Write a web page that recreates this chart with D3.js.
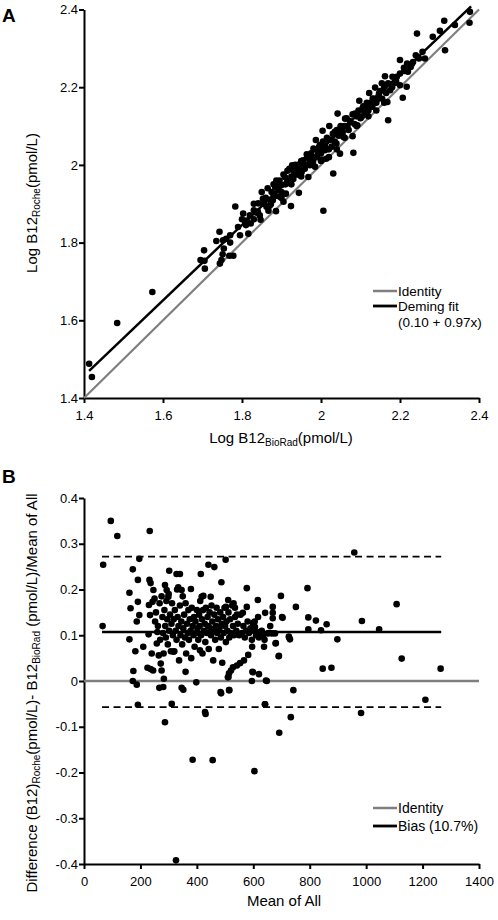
<!DOCTYPE html>
<html><head><meta charset="utf-8">
<script src="https://cdn.jsdelivr.net/npm/d3@7"></script>
<style>
body{margin:0;background:#fff;}
svg{display:block;font-family:"Liberation Sans",Arial,sans-serif;}
</style></head><body>
<svg id="c" width="498" height="920"></svg>
<script>
// ---- Panel A data: [Log B12 BioRad, Log B12 Roche]
const pointsA = [
[1.413,1.488],[1.42,1.454],[1.484,1.593],[1.573,1.673],[1.695,1.755],[1.704,1.78],[1.706,1.733],[1.705,1.753],
[1.735,1.804],[1.743,1.828],[1.744,1.746],[1.748,1.755],[1.754,1.785],[1.751,1.77],[1.752,1.806],[1.768,1.766],
[1.778,1.766],[1.77,1.819],[1.783,1.893],[1.795,1.819],[1.803,1.875],[1.808,1.853],[1.812,1.857],[1.816,1.823],
[1.822,1.849],[1.83,1.883],[1.837,1.877],[1.841,1.901],[1.847,1.859],[1.853,1.913],[1.862,1.892],[1.867,1.882],
[1.873,1.899],[1.878,1.909],[1.879,1.926],[1.884,1.943],[1.886,1.881],[1.887,1.96],[1.892,1.935],[1.896,1.918],
[1.9,1.948],[1.905,1.905],[1.909,1.968],[1.911,1.926],[1.915,1.985],[1.922,1.953],[1.924,1.894],[1.927,1.999],
[1.93,1.964],[1.934,1.977],[1.941,1.99],[1.944,1.928],[1.947,2.003],[1.951,1.982],[1.955,2.012],[1.959,1.99],
[1.964,2.027],[1.968,1.969],[1.972,1.999],[1.976,2.02],[1.981,2.042],[1.985,1.995],[1.987,2.064],[1.993,2.031],
[1.997,2.051],[2.002,2.014],[2.006,1.882],[2.004,2.088],[2.01,2.038],[2.013,2.016],[2.019,2.064],[2.021,2.1],
[2.027,2.047],[2.031,1.978],[2.035,2.085],[2.039,2.055],[2.042,2.132],[2.048,2.029],[2.05,2.098],[2.057,2.072],
[2.061,2.119],[2.067,2.098],[2.073,2.113],[2.08,2.074],[2.082,2.031],[2.086,2.132],[2.092,2.102],[2.097,2.165],
[2.103,2.124],[2.107,2.151],[2.111,2.138],[2.116,2.16],[2.122,2.185],[2.127,2.151],[2.131,2.171],[2.137,2.199],
[2.141,2.167],[2.147,2.184],[2.154,2.21],[2.162,2.228],[2.168,2.162],[2.17,2.115],[2.175,2.192],[2.181,2.227],
[2.187,2.211],[2.192,2.227],[2.2,2.205],[2.207,2.173],[2.211,2.242],[2.217,2.201],[2.2,2.27],[2.218,2.261],
[2.227,2.252],[2.233,2.265],[2.24,2.282],[2.243,2.338],[2.248,2.274],[2.257,2.291],[2.263,2.274],[2.283,2.33],
[2.301,2.345],[2.312,2.371],[2.314,2.295],[2.339,2.36],[2.376,2.366],[2.377,2.394],
[1.82,1.87],[1.83,1.9],[1.84,1.88],[1.85,1.93],[1.855,1.9],[1.86,1.915],[1.865,1.94],[1.87,1.91],[1.875,1.93],
[1.88,1.95],[1.885,1.92],[1.89,1.945],[1.895,1.96],[1.9,1.93],[1.905,1.975],[1.91,1.95],[1.915,1.96],[1.92,1.99],
[1.925,1.97],[1.93,1.985],[1.935,2.0],[1.94,1.975],[1.945,1.99],[1.95,2.01],[1.955,1.995],[1.96,2.0],[1.965,2.02],
[1.97,2.015],[1.975,2.03],[1.98,2.01],[1.985,2.04],[1.99,2.02],[1.995,2.045],[2.0,2.03],[2.005,2.06],[2.01,2.05],
[2.015,2.07],[2.02,2.04],[2.025,2.065],[2.03,2.08],[2.035,2.06],[2.04,2.09],[2.045,2.075],[2.05,2.1],[2.055,2.085],
[2.06,2.1],[2.065,2.12],[2.07,2.09],[2.075,2.11],[2.08,2.13],[2.085,2.105],[2.09,2.125],[2.095,2.14],[2.1,2.12],
[2.105,2.145],[2.11,2.13],[2.115,2.15],[2.12,2.14],[2.125,2.16],[2.13,2.15],[2.135,2.17],[2.14,2.16],[2.145,2.175],
[2.15,2.19],[2.155,2.17],[2.16,2.2],[2.165,2.185],[2.17,2.21],[2.18,2.2],[2.19,2.215],[2.2,2.235],[2.21,2.25],
[2.22,2.24],[2.23,2.26],[1.76,1.81],[1.77,1.8],[1.79,1.84],[1.8,1.86],[1.81,1.845],[1.83,1.86],[1.845,1.87],
[1.87,1.895],[1.9,1.915],[1.925,1.95],[1.95,1.97],[1.98,2.0],[2.0,2.01],[2.02,2.02],[2.04,2.04],[2.06,2.07],
[2.09,2.1],[2.12,2.125],[2.14,2.14],[2.16,2.16]
];
const identityA = [[1.4,1.4],[2.4,2.4]];
const demingA = [[1.413,1.47],[2.38,2.408]];
const ticksA = [1.4,1.6,1.8,2,2.2,2.4];
const legendA = ["Identity","Deming fit","(0.10 + 0.97x)"];

// ---- Panel B data: [Mean of All, relative difference]
const pointsB = [
[66,0.12],[68,0.254],[95,0.35],[118,0.317],[233,0.328],[161,0.193],[165,0.159],[161,0.091],[173,0.244],[175,0.022],
[173,0.0],[187,-0.008],[182,0.065],[191,-0.052],[191,0.221],[196,0.267],[191,0.173],[196,0.144],[187,0.13],[210,0.075],
[229,0.102],[232,0.221],[236,0.214],[230,0.166],[234,0.144],[243,0.173],[240,0.06],[225,0.029],[236,0.026],[245,0.023],
[246,0.199],[252,0.13],[258,0.082],[260,0.107],[265,0.056],[267,-0.015],[272,0.038],[275,0.023],[281,-0.013],[283,0.005],
[287,-0.09],[287,0.21],[293,0.199],[299,0.184],[302,0.241],[311,-0.05],[317,0.064],[328,0.234],[340,0.234],[334,0.205],
[346,0.199],[346,-0.015],[352,-0.019],[360,0.02],[379,0.201],[385,-0.172],[398,-0.003],[411,0.067],[414,0.234],[417,0.184],
[423,0.186],[431,-0.072],[441,0.254],[449,0.184],[456,-0.173],[462,0.249],[484,-0.024],[487,0.216],[502,0.265],[515,-0.02],
[512,0.009],[577,0.203],[616,0.177],[597,0.02],[604,-0.197],[645,0.001],[642,0.149],[642,-0.051],[669,0.162],[669,0.149],
[669,0.137],[679,0.082],[690,0.054],[698,0.186],[704,0.138],[692,-0.113],[726,0.097],[730,0.091],[733,-0.079],[742,-0.02],
[751,0.162],[792,0.203],[795,0.139],[795,0.113],[822,0.132],[840,0.111],[846,0.027],[860,0.124],[877,0.029],[898,0.091],
[958,0.281],[982,-0.07],[985,0.131],[1046,0.113],[1108,0.168],[1126,0.049],[1210,-0.041],[1264,0.027],[326,-0.392],
[599,0.127],[606,0.118],[613,0.107],[624,0.104],[635,0.1],[652,0.104],[666,0.104],[677,0.104],[727,0.095],[680,0.083],
[691,0.055],[638,0.075],[596,0.075],[582,0.057],[567,0.045],[553,0.039],[542,0.034],[528,0.03],[521,0.023],[514,0.017],
[510,0.008],[599,0.019],[620,0.015],[595,0.0],[648,0.0],[514,-0.02],[486,-0.027],[641,-0.051],[429,-0.068],
[530,0.17],[535,0.16],[542,0.145],[511,0.177],[503,0.162],[563,0.149],[577,0.162],[617,0.14],[702,0.14],
[250,0.18],[255,0.15],[262,0.12],[268,0.17],[270,0.09],[275,0.185],[278,0.14],[280,0.105],[282,0.06],[285,0.155],
[288,0.12],[290,0.095],[292,0.175],[295,0.135],[297,0.08],[300,0.19],[302,0.11],[305,0.145],[308,0.065],[310,0.125],
[312,0.17],[315,0.1],[318,0.135],[320,0.065],[322,0.155],[325,0.11],[328,0.09],[330,0.2],[332,0.14],[335,0.12],
[337,0.045],[340,0.165],[342,0.1],[345,0.13],[348,0.08],[350,0.185],[352,0.115],[355,0.145],[358,0.095],[360,0.17],
[362,0.06],[365,0.125],[368,0.105],[370,0.155],[372,0.09],[375,0.135],[378,0.11],[380,0.05],[382,0.16],[385,0.12],
[388,0.1],[390,0.14],[392,0.075],[395,0.13],[398,0.105],[400,0.155],[402,0.115],[405,0.09],[408,0.145],[410,0.12],
[412,0.175],[415,0.1],[418,0.135],[420,0.06],[422,0.155],[425,0.11],[428,0.125],[430,0.085],[432,0.16],[435,0.105],
[438,0.14],[440,0.12],[442,0.07],[445,0.15],[448,0.115],[450,0.1],[452,0.165],[455,0.13],[458,0.045],[460,0.11],
[462,0.145],[465,0.09],[468,0.12],[470,0.16],[472,0.105],[475,0.135],[478,0.07],[480,0.115],[483,0.15],[485,0.095],
[488,0.125],[490,0.04],[493,0.14],[495,0.105],[498,0.16],[500,0.12],[503,0.085],[505,0.13],[508,0.11],[512,0.15],
[515,0.095],[518,0.135],[520,0.105],[525,0.165],[528,0.12],[532,0.1],[535,0.14],[540,0.11],[545,0.125],[550,0.1],
[555,0.145],[560,0.105],[565,0.12],[570,0.095],[575,0.11],[580,0.13],[585,0.105],[590,0.115],[595,0.09],[600,0.11],
[605,0.13],[610,0.1],[620,0.095],[630,0.11],[640,0.09],[655,0.105],[660,0.12]
];
const biasB = 0.107, upperLoA = 0.272, lowerLoA = -0.057;
const lineExtentB = [64, 1266];
const ticksBx = [0,200,400,600,800,1000,1200,1400];
const ticksBy = [-0.4,-0.3,-0.2,-0.1,0,0.1,0.2,0.3,0.4];
const legendB = ["Identity","Bias (10.7%)"];

const svg = d3.select("#c");
const GRAY = "#7f7f7f";
const FONT = "'Liberation Sans',Arial,sans-serif";

function styleAxis(g){
  g.selectAll(".domain").attr("stroke","#000").attr("stroke-width",2);
  g.selectAll(".tick line").attr("stroke","#000").attr("stroke-width",2);
  g.selectAll(".tick text").attr("font-size",13).attr("font-family",FONT).attr("fill","#000");
}

// ================= Panel A =================
const xA = d3.scaleLinear().domain([1.4,2.4]).range([84,479]);
const yA = d3.scaleLinear().domain([1.4,2.4]).range([398,9.5]);
const gA = svg.append("g");
gA.append("g").attr("transform","translate(0,398)")
  .call(d3.axisBottom(xA).tickValues(ticksA).tickSize(5).tickSizeOuter(0).tickFormat(d3.format("")))
  .call(styleAxis).call(g=>g.selectAll(".tick text").attr("dy","1.05em"));
gA.append("g").attr("transform","translate(84,0)")
  .call(d3.axisLeft(yA).tickValues(ticksA).tickSize(5).tickSizeOuter(0).tickFormat(d3.format("")))
  .call(styleAxis).call(g=>g.selectAll(".tick text").attr("x",-6));
const lineA = d3.line().x(d=>xA(d[0])).y(d=>yA(d[1]));
gA.append("path").attr("d",lineA(identityA)).attr("stroke",GRAY).attr("stroke-width",2.2).attr("fill","none");
gA.append("path").attr("d",lineA(demingA)).attr("stroke","#000").attr("stroke-width",2.5).attr("fill","none");
gA.append("g").selectAll("circle").data(pointsA).join("circle")
  .attr("cx",d=>xA(d[0])).attr("cy",d=>yA(d[1])).attr("r",3.3).attr("fill","#000");
// legend A
gA.append("line").attr("x1",373).attr("x2",397).attr("y1",291).attr("y2",291).attr("stroke",GRAY).attr("stroke-width",2.5);
gA.append("line").attr("x1",373).attr("x2",397).attr("y1",306).attr("y2",306).attr("stroke","#000").attr("stroke-width",2.8);
gA.append("text").attr("x",398).attr("y",295.5).attr("font-size",13.5).text(legendA[0]);
gA.append("text").attr("x",398).attr("y",310.5).attr("font-size",13.5).text(legendA[1]);
gA.append("text").attr("x",398).attr("y",327).attr("font-size",13.5).text(legendA[2]);
// titles A
const tA = gA.append("text").attr("x",281).attr("y",443).attr("text-anchor","middle").attr("font-size",15);
tA.append("tspan").text("Log B12");
tA.append("tspan").attr("font-size",10).attr("dy",3).text("BioRad");
tA.append("tspan").attr("dy",-3).text("(pmol/L)");
const yTA = gA.append("text").attr("transform","translate(37,203) rotate(-90)").attr("text-anchor","middle").attr("font-size",15);
yTA.append("tspan").text("Log B12");
yTA.append("tspan").attr("font-size",10).attr("dy",3).text("Roche");
yTA.append("tspan").attr("dy",-3).text("(pmol/L)");
svg.append("text").attr("x",2).attr("y",22).attr("font-size",19).attr("font-weight","bold").text("A");

// ================= Panel B =================
const xB = d3.scaleLinear().domain([0,1400]).range([84,479]);
const yB = d3.scaleLinear().domain([-0.4,0.4]).range([864,498]);
const gB = svg.append("g");
gB.append("g").attr("transform","translate(0,864)")
  .call(d3.axisBottom(xB).tickValues(ticksBx).tickSize(5).tickSizeOuter(0).tickFormat(d3.format("")))
  .call(styleAxis).call(g=>g.selectAll(".tick text").attr("dy","1.05em"));
gB.append("g").attr("transform","translate(84,0)")
  .call(d3.axisLeft(yB).tickValues(ticksBy).tickSize(5).tickSizeOuter(0).tickFormat(d=>d===0?"0":d3.format(".1f")(d).replace("−","-")))
  .call(styleAxis).call(g=>g.selectAll(".tick text").attr("x",-6));
// zero (identity) line
gB.append("line").attr("x1",xB(0)).attr("x2",xB(1400)).attr("y1",yB(0)).attr("y2",yB(0)).attr("stroke",GRAY).attr("stroke-width",2.5);
// bias and limits
gB.append("line").attr("x1",xB(lineExtentB[0])).attr("x2",xB(lineExtentB[1])).attr("y1",yB(biasB)).attr("y2",yB(biasB)).attr("stroke","#000").attr("stroke-width",2.5);
[upperLoA,lowerLoA].forEach(v=>{
  gB.append("line").attr("x1",xB(lineExtentB[0])).attr("x2",xB(lineExtentB[1])).attr("y1",yB(v)).attr("y2",yB(v))
    .attr("stroke","#000").attr("stroke-width",1.8).attr("stroke-dasharray","7,4.5");
});
gB.append("g").selectAll("circle").data(pointsB).join("circle")
  .attr("cx",d=>xB(d[0])).attr("cy",d=>yB(d[1])).attr("r",3.3).attr("fill","#000");
// legend B
gB.append("line").attr("x1",373).attr("x2",397).attr("y1",808).attr("y2",808).attr("stroke",GRAY).attr("stroke-width",2.5);
gB.append("line").attr("x1",373).attr("x2",397).attr("y1",826).attr("y2",826).attr("stroke","#000").attr("stroke-width",2.8);
gB.append("text").attr("x",398).attr("y",813).attr("font-size",14).text(legendB[0]);
gB.append("text").attr("x",398).attr("y",831).attr("font-size",14).text(legendB[1]);
// titles B
gB.append("text").attr("x",284).attr("y",906).attr("text-anchor","middle").attr("font-size",15).text("Mean of All");
const yTB = gB.append("text").attr("transform","translate(37,693) rotate(-90)").attr("text-anchor","middle").attr("font-size",15);
yTB.append("tspan").text("Difference (B12)");
yTB.append("tspan").attr("font-size",10).attr("dy",3).text("Roche");
yTB.append("tspan").attr("dy",-3).text("(pmol/L)- B12");
yTB.append("tspan").attr("font-size",10).attr("dy",3).text("BioRad");
yTB.append("tspan").attr("dy",-3).text(" (pmol/L)/Mean of All");
svg.append("text").attr("x",2).attr("y",483).attr("font-size",19).attr("font-weight","bold").text("B");
</script>
</body></html>
